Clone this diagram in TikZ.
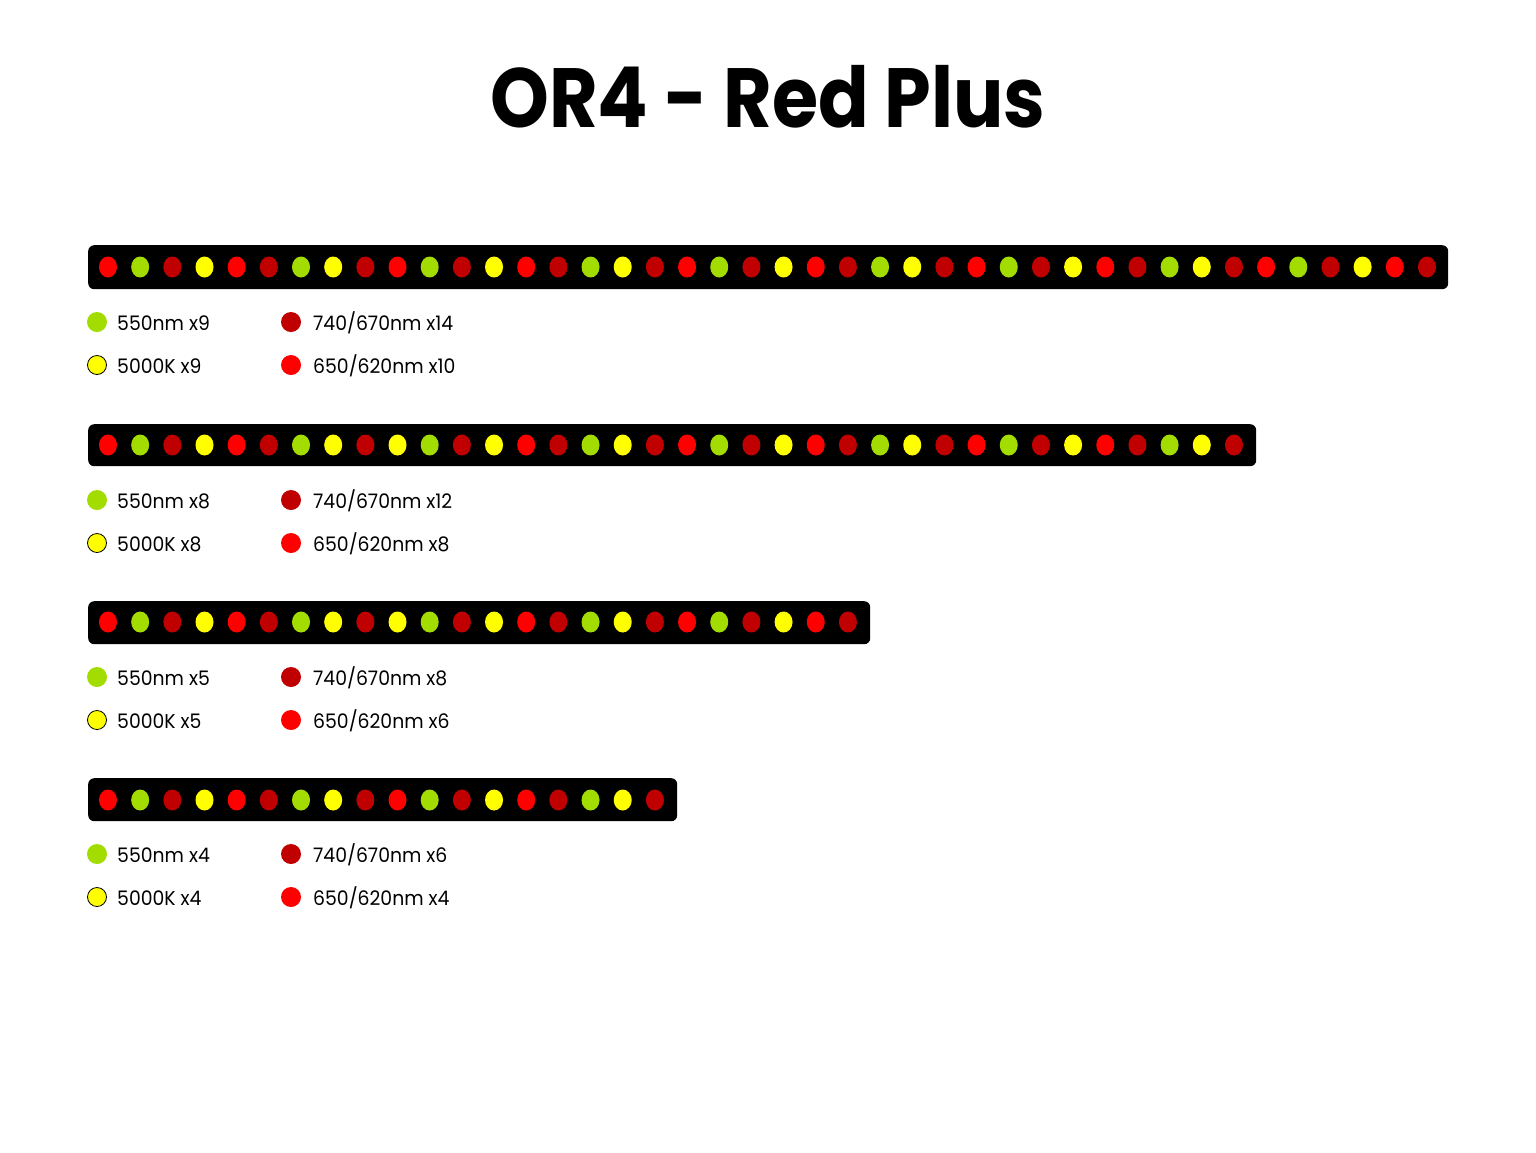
\documentclass[tikz,border=0pt]{standalone}
\usepackage{fontspec}
\setmainfont{Poppins}
\usetikzlibrary{shapes.geometric}
\definecolor{ledR}{HTML}{FF0000}
\definecolor{ledG}{HTML}{A2DC00}
\definecolor{ledD}{HTML}{C00000}
\definecolor{ledY}{HTML}{FFFF00}
\tikzset{
  bar/.style={fill=black, rounded corners=6pt, anchor=north west, inner sep=0pt},
  led/.style={ellipse, minimum width=18pt, minimum height=21pt, inner sep=0pt},
  key/.style={circle, minimum size=20pt, inner sep=0pt},
  keyY/.style={key, fill=ledY, draw=black, line width=0.8pt, minimum size=19pt},
  lbl/.style={anchor=base west, inner sep=0pt, font=\fontsize{20}{20}\selectfont},
  ttl/.style={inner sep=0pt, font=\fontsize{84}{84}\selectfont\bfseries},
}
\newcommand\lbltext[1]{\scalebox{0.94}[1]{#1}}
\begin{document}
\begin{tikzpicture}[x=1pt,y=-1pt]
\useasboundingbox[fill=white] (0,0) rectangle (1536,1152);
\node[ttl] (title) at (768,97) {\scalebox{0.89}[1]{OR4 - Red Plus}};

% bar 1
\node[bar, minimum width=1360pt, minimum height=44pt] (bar1) at (88,245) {};
\foreach \c [count=\i from 0] in {R,G,D,Y,R,D,G,Y,D,R,G,D,Y,R,D,G,Y,D,R,G,D,Y,R,D,G,Y,D,R,G,D,Y,R,D,G,Y,D,R,G,D,Y,R,D}
  \node[led, fill=led\c] (bA\i) at ({108+32.17*\i},267) {};
% bar 2
\node[bar, minimum width=1168pt, minimum height=42pt] (bar2) at (88,424) {};
\foreach \c [count=\i from 0] in {R,G,D,Y,R,D,G,Y,D,Y,G,D,Y,R,D,G,Y,D,R,G,D,Y,R,D,G,Y,D,R,G,D,Y,R,D,G,Y,D}
  \node[led, fill=led\c] (bB\i) at ({108+32.17*\i},445) {};
% bar 3
\node[bar, minimum width=782pt, minimum height=43pt] (bar3) at (88,601) {};
\foreach \c [count=\i from 0] in {R,G,D,Y,R,D,G,Y,D,Y,G,D,Y,R,D,G,Y,D,R,G,D,Y,R,D}
  \node[led, fill=led\c] (bC\i) at ({108+32.17*\i},622) {};
% bar 4
\node[bar, minimum width=589pt, minimum height=43pt] (bar4) at (88,778) {};
\foreach \c [count=\i from 0] in {R,G,D,Y,R,D,G,Y,D,R,G,D,Y,R,D,G,Y,D}
  \node[led, fill=led\c] (bD\i) at ({108+32.17*\i},800) {};

% legends
\foreach \n/\ya/\yb/\g/\y/\d/\r in {
  A/322/365/x9/x9/x14/x10,
  B/500/543/x8/x8/x12/x8,
  C/677/720/x5/x5/x8/x6,
  D/854/897/x4/x4/x6/x4}{
  \node[key, fill=ledG] (kG\n) at (97,\ya) {};
  \node[lbl] (tG\n) at (117,\ya+8) {\lbltext{550nm \g}};
  \node[keyY] (kY\n) at (97,\yb) {};
  \node[lbl] (tY\n) at (117,\yb+8) {\lbltext{5000K \y}};
  \node[key, fill=ledD] (kD\n) at (291,\ya) {};
  \node[lbl] (tD\n) at (313,\ya+8) {\lbltext{740/670nm \d}};
  \node[key, fill=ledR] (kR\n) at (291,\yb) {};
  \node[lbl] (tR\n) at (313,\yb+8) {\lbltext{650/620nm \r}};
}
\end{tikzpicture}
\end{document}
